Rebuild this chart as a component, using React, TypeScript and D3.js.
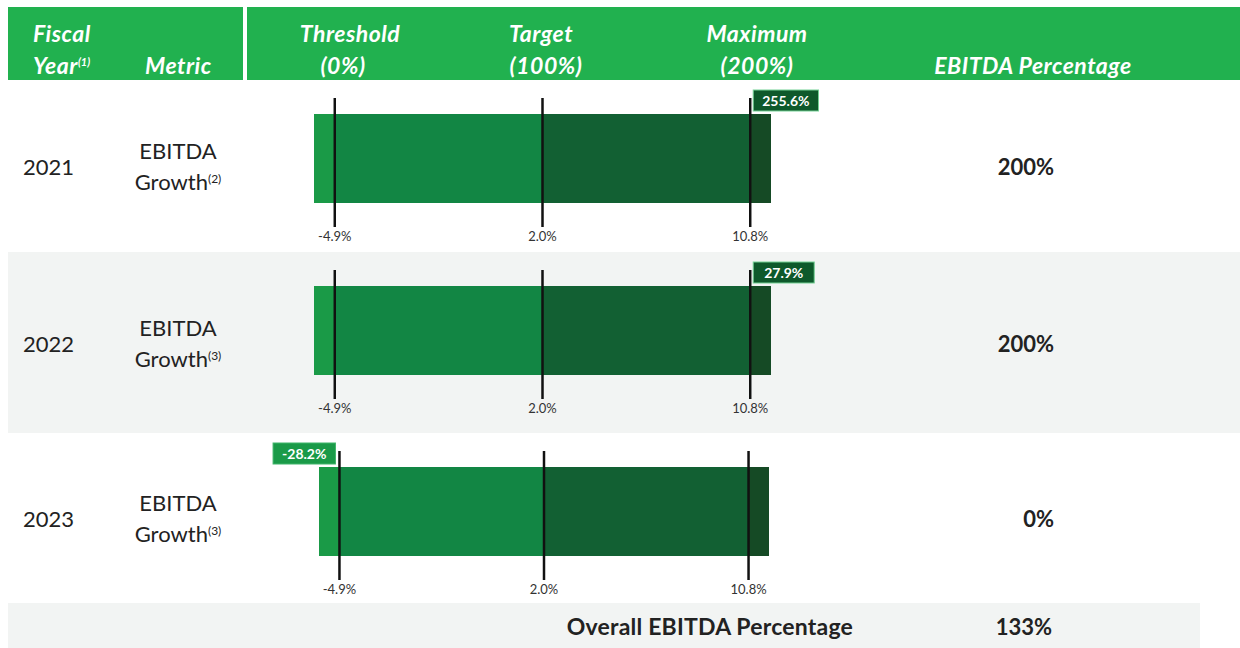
import React from "react";
import * as d3 from "d3";

// ---------- data ----------
const years = ["2021", "2022", "2023"];
const metricLine1 = ["EBITDA", "EBITDA", "EBITDA"];
const metricLine2 = ["Growth", "Growth", "Growth"];
const footnotes = ["(2)", "(3)", "(3)"];
const thresholdGoal = [-4.9, -4.9, -4.9];
const targetGoal = [2.0, 2.0, 2.0];
const maximumGoal = [10.8, 10.8, 10.8];
const actualGrowth = [255.6, 27.9, -28.2];
const payoutPct = [200, 200, 0];
const overallPct = 133;
const levelLabels = ["Threshold", "Target", "Maximum"];
const levelPayouts = ["(0%)", "(100%)", "(200%)"];
const bandEdges = [-0.1, 0, 1, 2, 2.1]; // payout level units (0 = threshold, 1 = target, 2 = maximum)
const bandColors = ["#1a9a47", "#128644", "#126033", "#154a25"];

// ---------- layout ----------
const W = 1240;
const H = 648;
const FONT = "Lato, 'Open Sans', sans-serif";
const rowTops = [80, 252, 433];
const rowBottoms = [252, 433, 602];
const barRanges: [number, number][] = [
  [314, 771],
  [314, 771],
  [319, 769],
];
const barH = 89;

const fmt = (v: number) => v.toFixed(1) + "%";

function measure(text: string, font: string) {
  const c = document.createElement("canvas").getContext("2d");
  if (!c) return text.length * 8;
  c.font = font;
  return c.measureText(text).width;
}

export default function App() {
  const headerCenters = [350, 541, 757];
  const payoutCenters = [343, 546, 757];
  return (
    <div style={{ position: "absolute", left: 0, top: 0 }}>
      <svg width={W} height={H} style={{ display: "block", fontFamily: FONT }}>
        <rect x={0} y={0} width={W} height={H} fill="#ffffff" />
        {/* header */}
        <rect x={8} y={7} width={235} height={73} fill="#21b14f" />
        <rect x={247} y={7} width={W - 247} height={73} fill="#21b14f" />
        <g fill="#ffffff" fontWeight={700} fontStyle="italic" fontSize={23} letterSpacing={0.5}>
          <text x={33} y={42}>Fiscal</text>
          <text x={33} y={74}>
            Year<tspan fontSize={11} dy={-8} letterSpacing={0}>(1)</tspan>
          </text>
          <text x={145} y={74}>Metric</text>
          {levelLabels.map((l, i) => (
            <text key={l} x={headerCenters[i]} y={42} textAnchor="middle">{l}</text>
          ))}
          {levelPayouts.map((l, i) => (
            <text key={l} x={payoutCenters[i]} y={74} textAnchor="middle">{l}</text>
          ))}
          <text x={1033} y={74} textAnchor="middle">EBITDA Percentage</text>
        </g>

        {/* row backgrounds */}
        <rect x={8} y={rowTops[1]} width={W - 8} height={rowBottoms[1] - rowTops[1]} fill="#f2f4f3" />
        <rect x={8} y={603} width={1192} height={45} fill="#f2f4f3" />

        {years.map((yr, i) => {
          const top = rowTops[i];
          const mid = (rowTops[i] + rowBottoms[i]) / 2;
          const barTop = top + 34;
          const x = d3.scaleLinear().domain([bandEdges[0], bandEdges[bandEdges.length - 1]]).range(barRanges[i]);
          const goalToLevel = d3
            .scaleLinear()
            .domain([thresholdGoal[i], targetGoal[i], maximumGoal[i]])
            .range([0, 1, 2])
            .clamp(true);
          const goals = [thresholdGoal[i], targetGoal[i], maximumGoal[i]];
          const v = actualGrowth[i];
          const lvl = goalToLevel(v);
          const label = fmt(v);
          const tw = measure(label, `700 14px ${FONT}`);
          const boxW = Math.max(61, tw + 18);
          const boxH = 21;
          const boxY = barTop - 24;
          let boxX: number;
          let boxFill: string;
          if (v >= maximumGoal[i]) {
            boxX = x(lvl) + 3;
            boxFill = "#0e592b";
          } else if (v <= thresholdGoal[i]) {
            boxX = x(lvl) - 4 - boxW;
            boxFill = "#1a9a48";
          } else {
            boxX = x(lvl) - boxW / 2;
            boxFill = "#0e592b";
          }
          return (
            <g key={yr}>
              <text x={23} y={mid + 9} fontSize={22} fill="#222">{yr}</text>
              <text x={178} y={mid - 7} fontSize={22} fill="#222" textAnchor="middle">{metricLine1[i]}</text>
              <text x={178} y={mid + 24} fontSize={22} fill="#222" textAnchor="middle">
                {metricLine2[i]}
                <tspan fontSize={12} dy={-7}>{footnotes[i]}</tspan>
              </text>
              {bandColors.map((c, j) => (
                <rect
                  key={c}
                  x={x(bandEdges[j])}
                  y={barTop}
                  width={x(bandEdges[j + 1]) - x(bandEdges[j])}
                  height={barH}
                  fill={c}
                />
              ))}
              {goals.map((g, j) => (
                <g key={j}>
                  <line
                    x1={x(j)}
                    x2={x(j)}
                    y1={barTop - 16}
                    y2={barTop + barH + 24}
                    stroke="#111"
                    strokeWidth={2.5}
                  />
                  <text
                    x={x(j)}
                    y={barTop + barH + 38}
                    fontSize={13}
                    fill="#333"
                    textAnchor="middle"
                  >
                    {fmt(g)}
                  </text>
                </g>
              ))}
              <rect
                x={boxX}
                y={boxY}
                width={boxW}
                height={boxH}
                fill={boxFill}
                stroke={boxFill === "#0e592b" ? "#74d195" : "#3fb56a"}
                strokeWidth={1}
              />
              <text
                x={boxX + boxW / 2}
                y={boxY + 15.5}
                fontSize={14}
                fontWeight={700}
                fill="#ffffff"
                textAnchor="middle"
              >
                {label}
              </text>
              <text x={1054} y={mid + 9} fontSize={22} fontWeight={700} fill="#222" textAnchor="end">
                {payoutPct[i]}%
              </text>
            </g>
          );
        })}

        <text x={853} y={635} fontSize={23} fontWeight={700} fill="#222" textAnchor="end" letterSpacing={0.2}>
          Overall EBITDA Percentage
        </text>
        <text x={1052} y={635} fontSize={22} fontWeight={700} fill="#222" textAnchor="end">
          {overallPct}%
        </text>
      </svg>
    </div>
  );
}
